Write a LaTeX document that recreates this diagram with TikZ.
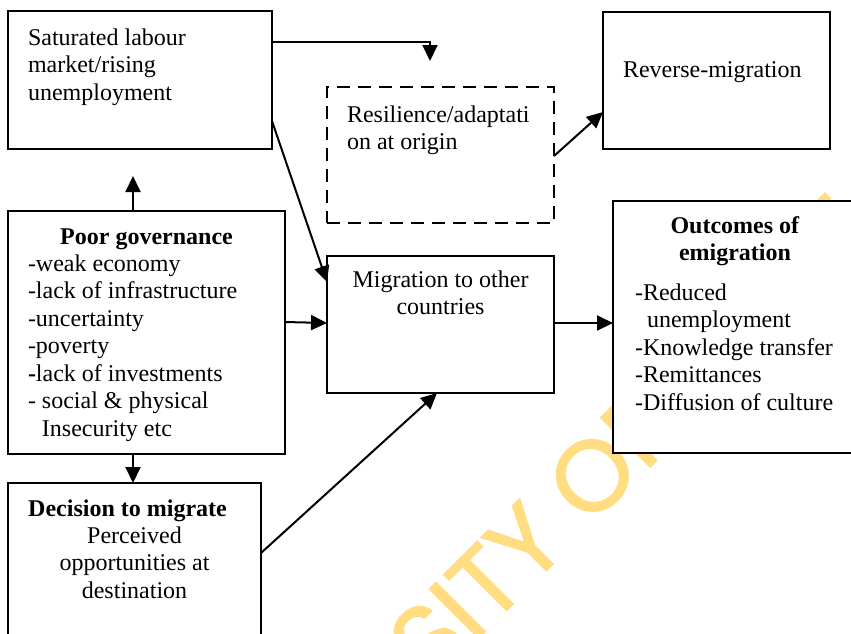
\documentclass[tikz,border=0pt]{standalone}
\usepackage{fontspec}
\setmainfont{Liberation Serif}
\newfontfamily\wmfont{Poppins}[FakeBold=1.6]
\usetikzlibrary{arrows.meta,calc}
\definecolor{wmcol}{RGB}{255,221,128}
\begin{document}
\begin{tikzpicture}[x=1pt,y=-1pt,
  box/.style={draw=black,line width=2pt,fill=white,inner sep=0pt,outer sep=0pt},
  dbox/.style={box,dash pattern=on 13pt off 8pt},
  txt/.style={inner sep=0pt,outer sep=0pt,font=\fontsize{24}{27.5}\selectfont},
  arr/.style={line width=2pt,-{Triangle[length=16pt,width=15pt]}}]
\useasboundingbox (0,0) rectangle (851,633);
% watermark
\node[rotate=45,anchor=base west,inner sep=0pt,text=wmcol,font=\wmfont\fontsize{100}{100}\selectfont] (wm) at (589,528) {\llap{UNIVERSITY\ }OF CAPE COAST};
% boxes
\node[box,minimum width=264pt,minimum height=138pt] (sat) at (140,80) {};
\node[dbox,minimum width=227pt,minimum height=136pt] (res) at (440.5,155) {};
\node[box,minimum width=227pt,minimum height=137pt] (rev) at (716.5,80.5) {};
\node[box,minimum width=277pt,minimum height=243pt] (gov) at (146.5,332.5) {};
\node[box,minimum width=227pt,minimum height=137pt] (mig) at (440.5,324.5) {};
\node[box,minimum width=257pt,minimum height=252pt] (out) at (741.5,327) {};
\node[box,minimum width=253pt,minimum height=177pt] (dec) at (134.5,571.5) {};
% texts
\node[txt,anchor=north west,align=left] (satt) at ($(sat.north west)+(20,14.75)$) {\strut Saturated labour\\market/rising\\unemployment};
\node[txt,anchor=north west,align=left] (revt) at ($(rev.north west)+(20,45.75)$) {\strut Reverse-migration};
\node[txt,anchor=north west,align=left] (rest) at ($(res.north west)+(20,15.75)$) {\strut Resilience/adaptati\\on at origin};
\node[txt,anchor=north,align=center] (govh) at ($(gov.north)+(0,13.75)$) {\strut\textbf{Poor governance}};
\node[txt,anchor=north west,align=left] (govt) at ($(gov.north west)+(20,40.75)$) {\strut -weak economy\\-lack of infrastructure\\-uncertainty\\-poverty\\\textbf{-}lack of investments\\- social \& physical\\\phantom{- }Insecurity etc};
\node[txt,anchor=north,align=center] (migt) at ($(mig.north)+(0,11.75)$) {\strut Migration to other\\countries};
\node[txt,anchor=north,align=center] (outh) at ($(out.north west)+(122,12.75)$) {\strut\textbf{Outcomes of}\\\textbf{emigration}};
\node[txt,anchor=north west,align=left] (outt) at ($(out.north west)+(22,79.75)$) {\strut -Reduced\\\hspace*{12pt}unemployment\\-Knowledge transfer\\-Remittances\\-Diffusion of culture};
\node[txt,anchor=north,align=center] (dech) at ($(dec.north west)+(119.5,13.75)$) {\strut\textbf{Decision to migrate}};
\node[txt,anchor=north,align=center] (dect) at ($(dec.north)+(0,40.75)$) {\strut Perceived\\opportunities at\\destination};
% free ends
\coordinate (ta) at (430,61);
\coordinate (tc) at (133,176);
% arrows
\draw[arr] ($(sat.north east)+(0,31)$) -| (ta);
\draw[arr] ($(sat.north east)+(0,110)$) -- ($(mig.north west)+(0,26)$);
\draw[arr] ($(gov.north west)+(125,0)$) -- (tc);
\draw[arr] ($(gov.north west)+(277,111)$) -- ($(mig.north west)+(0,67)$);
\draw[arr] ($(gov.south west)+(125,0)$) -- ($(dec.north west)+(125,0)$);
\draw[arr] ($(dec.north east)+(0,70)$) -- ($(mig.south west)+(110,0)$);
\draw[arr] ($(mig.north east)+(0,67)$) -- ($(out.north west)+(0,122)$);
\draw[arr] ($(res.north east)+(0,69)$) -- ($(rev.north west)+(0,100)$);
\end{tikzpicture}
\end{document}
